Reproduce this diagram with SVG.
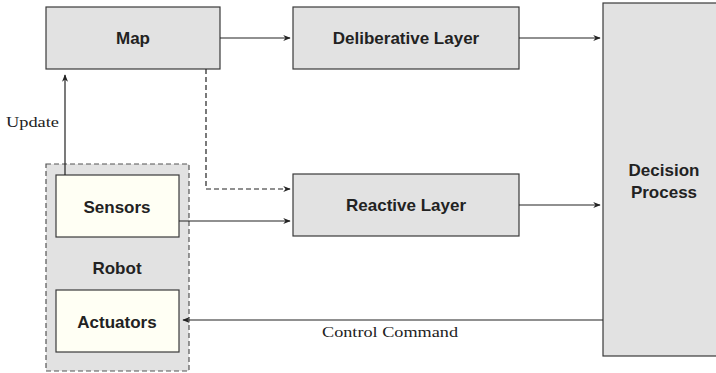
<svg xmlns="http://www.w3.org/2000/svg" width="716" height="373" viewBox="0 0 716 373">
<style>
.box{fill:#e2e2e2;stroke:#3a3a3a;stroke-width:1.2}
.inner{fill:#fffff4;stroke:#3a3a3a;stroke-width:1.2}
.robot{fill:#e2e2e2;stroke:#555;stroke-width:1.2;stroke-dasharray:5,3}
.t{font-family:"Liberation Sans",Arial,sans-serif;font-weight:bold;font-size:17px;fill:#222;text-anchor:middle}
.lbl{font-family:"Liberation Serif",serif;font-size:15px;fill:#222}
.c{fill:none;stroke:#222;stroke-width:1.2}
.d{stroke-dasharray:5,3}
</style>
<defs>
<marker id="ah" viewBox="0 0 10 8" refX="9" refY="4" markerWidth="8" markerHeight="6" orient="auto" markerUnits="userSpaceOnUse">
<path d="M0,0 L10,4 L0,8 L3,4 z" fill="#222"/>
</marker>
</defs>
<g id="map"><rect class="box" x="46" y="7" width="174" height="62"/><text class="t" x="133" y="44">Map</text></g>
<g id="deliberative"><rect class="box" x="293" y="7" width="226" height="62"/><text class="t" x="406" y="44">Deliberative Layer</text></g>
<g id="reactive"><rect class="box" x="293" y="174" width="226" height="62"/><text class="t" x="406" y="211">Reactive Layer</text></g>
<g id="decision"><rect class="box" x="603" y="3" width="122" height="353"/><text class="t" x="664" y="176">Decision</text><text class="t" x="664" y="198">Process</text></g>
<g id="robot"><rect class="robot" x="46" y="164" width="143" height="207"/><text class="t" x="117" y="274">Robot</text></g>
<g id="sensors"><rect class="inner" x="56" y="175" width="123" height="62"/><text class="t" x="117" y="213">Sensors</text></g>
<g id="actuators"><rect class="inner" x="56" y="290" width="123" height="62"/><text class="t" x="117" y="328">Actuators</text></g>
<g id="connectors">
<line class="c" x1="65" y1="175" x2="65" y2="75" marker-end="url(#ah)"/>
<text class="lbl" x="6" y="127" textLength="53" lengthAdjust="spacingAndGlyphs">Update</text>
<line class="c" x1="220" y1="38" x2="290" y2="38" marker-end="url(#ah)"/>
<polyline class="c d" points="206,69 206,189 290,189" marker-end="url(#ah)"/>
<line class="c" x1="179" y1="221" x2="290" y2="221" marker-end="url(#ah)"/>
<line class="c" x1="519" y1="38" x2="600" y2="38" marker-end="url(#ah)"/>
<line class="c" x1="519" y1="205" x2="600" y2="205" marker-end="url(#ah)"/>
<line class="c" x1="603" y1="320" x2="183" y2="320" marker-end="url(#ah)"/>
<text class="lbl" x="322" y="337" textLength="136" lengthAdjust="spacingAndGlyphs">Control Command</text>
</g>
</svg>
